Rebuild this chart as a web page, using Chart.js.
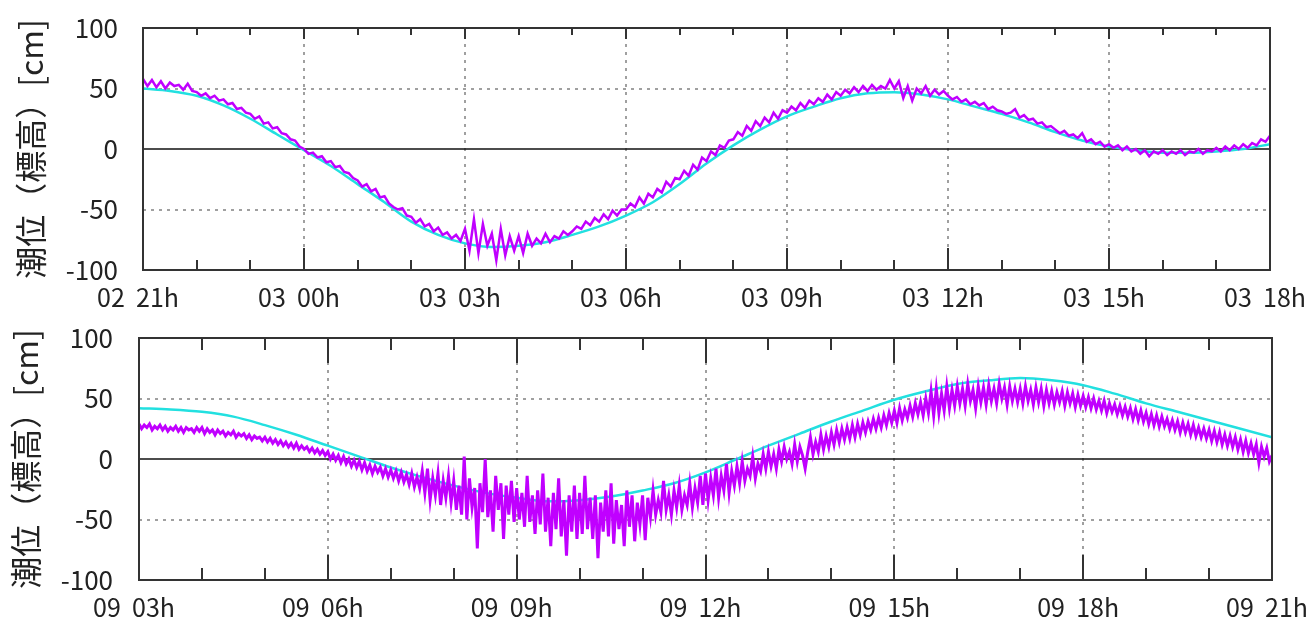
<!DOCTYPE html>
<html lang="ja">
<head>
<meta charset="UTF-8">
<title>潮位（標高）</title>
<script src="https://cdn.jsdelivr.net/npm/chart.js"></script>
<style>
  body { margin: 0; background: #fff; }
  .panel { position: absolute; left: 0; width: 1314px; height: 312px; }
</style>
</head>
<body>
<div class="panel" style="top:0"><canvas id="topChart" width="1314" height="312"></canvas></div>
<div class="panel" style="top:312px"><canvas id="bottomChart" width="1314" height="312"></canvas></div>

<script>
// ---- data ----
var Y_TICKS = [-100, -50, 0, 50, 100];

// top panel: 02 21h -> 03 18h, x in hours from start
var TOP_HOURS = [0, 1, 2, 3, 4, 5, 6, 7, 8, 9, 10, 11, 12, 13, 14, 15, 16, 17, 18, 19, 20, 21];
var TOP_LABELS = ['02  21h', '03  00h', '03  03h', '03  06h', '03  09h', '03  12h', '03  15h', '03  18h'];
// predicted tide, every 30 min
var TOP_PRED = [50, 48, 44, 36, 25, 12, -1, -14, -29, -44, -60, -71, -78, -81, -80, -77, -71, -64, -55, -44,
  -29, -12, 3, 16, 27, 35, 42, 46, 47, 45, 41, 35, 29, 22, 14, 7, 2, -1, -3, -3, -2, 0, 4];
// observed, every 5 min (12 per hour)
var TOP_OBS_PER_HOUR = 12;
var TOP_OBS = [
  58, 52, 57, 51, 56, 50, 55, 52, 53, 49, 54, 48,
  47, 44, 46, 42, 44, 40, 41, 37, 38, 33, 34, 30,
  29, 25, 27, 21, 22, 17, 18, 13, 12, 8, 7, 2,
  0, -4, -3, -7, -6, -11, -10, -15, -14, -19, -20, -24,
  -26, -31, -29, -35, -33, -40, -39, -45, -48, -50, -49, -55,
  -56, -61, -58, -64, -62, -68, -65, -71, -69, -74, -71, -76,
  -66, -84, -58, -86, -62, -80, -70, -92, -66, -88, -72, -84,
  -72, -86, -70, -80, -74, -78, -70, -77, -72, -74, -68, -71,
  -68, -64, -66, -60, -63, -57, -60, -54, -58, -51, -55, -50,
  -50, -45, -48, -40, -45, -37, -40, -33, -36, -27, -31, -24,
  -25, -18, -22, -13, -17, -7, -10, -2, -5, 3, 1, 7,
  8, 14, 11, 19, 15, 23, 19, 26, 22, 30, 25, 32,
  30, 35, 32, 38, 34, 40, 37, 42, 39, 45, 41, 47,
  44, 49, 46, 51, 47, 52, 48, 53, 49, 52, 50, 57,
  50, 56, 42, 52, 40, 50, 46, 52, 44, 49, 45, 48,
  44, 41, 43, 39, 41, 37, 39, 36, 38, 33, 35, 32,
  31, 29, 30, 33, 26, 28, 24, 25, 21, 22, 18, 19,
  16, 13, 15, 11, 12, 9, 13, 6, 8, 4, 6, 2,
  4, 1, 3, -1, 2, -2, 0, -4, -1, -6, -2, -4,
  -1, -5, -2, -4, -1, -5, -2, -3, 0, -4, -1, -2,
  1, -2, 2, -1, 3, 0, 4, 1, 5, 3, 8, 6,
  11];

// bottom panel: 09 03h -> 09 21h
var BOT_HOURS = [0, 1, 2, 3, 4, 5, 6, 7, 8, 9, 10, 11, 12, 13, 14, 15, 16, 17, 18];
var BOT_LABELS = ['09  03h', '09  06h', '09  09h', '09  12h', '09  15h', '09  18h', '09  21h'];
var BOT_PRED = [42, 41, 39, 35, 28, 20, 11, 2, -7, -15, -22, -28, -32, -35, -34, -31, -26, -20, -11, 0,
  11, 21, 31, 40, 49, 56, 62, 65, 67, 65, 61, 54, 46, 39, 32, 25, 18];
// observed, every 2.5 min (24 per hour)
var BOT_OBS_PER_HOUR = 24;
var BOT_OBS = [
  29, 25, 28, 26, 29, 24, 27, 25, 28, 24, 27, 23, 26, 24, 27, 23, 26, 22, 26, 24, 25, 22, 26, 23,
  26, 21, 25, 22, 24, 20, 24, 21, 23, 19, 22, 20, 23, 18, 21, 19, 21, 17, 20, 16, 19, 17, 18, 15,
  18, 14, 17, 13, 16, 12, 15, 11, 14, 10, 13, 9, 13, 8, 11, 8, 10, 6, 9, 5, 8, 4, 7, 3,
  6, 0, 4, -1, 3, -3, 2, -4, 0, -6, -1, -7, -2, -9, -3, -10, -5, -12, -6, -11, -7, -14, -8, -15,
  -9, -16, -10, -18, -11, -19, -13, -21, -12, -23, -15, -24, -10, -28, -8, -34, -16, -30, -12, -38, -18, -32, -14, -36,
  -18, -42, -22, -46, 2, -50, -16, -40, -24, -74, -20, -44, 0, -48, -26, -60, -14, -42, -20, -66, -22, -46, -18, -52,
  -24, -50, -28, -56, -14, -52, -30, -62, -26, -54, -12, -60, -32, -72, -28, -58, -16, -64, -34, -80, -30, -60, -22, -66,
  -28, -62, -14, -58, -32, -66, -30, -82, -36, -60, -26, -64, -20, -70, -34, -58, -38, -72, -26, -56, -30, -68, -36, -54,
  -30, -67, -32, -48, -26, -46, -34, -44, -18, -42, -30, -46, -26, -40, -22, -42, -30, -38, -20, -40, -24, -36, -14, -38,
  -12, -34, -16, -30, -8, -32, -14, -26, -4, -28, -10, -22, -6, -20, -2, -18, -8, -14, 2, -16, -4, -10, 4, -8,
  6, -6, 4, -8, 8, -2, 10, 0, 6, -4, 12, -2, 10, 3, -8, 6, 18, 4, 14, 6, 20, 8, 19, 10,
  22, 12, 24, 14, 25, 16, 26, 17, 28, 18, 29, 20, 30, 22, 31, 24, 33, 25, 34, 26, 36, 28, 38, 30,
  40, 30, 42, 32, 41, 34, 44, 35, 46, 37, 47, 36, 50, 38, 56, 36, 58, 38, 54, 40, 60, 42, 57, 44,
  60, 46, 58, 44, 62, 48, 57, 42, 60, 47, 59, 45, 61, 48, 58, 46, 62, 50, 59, 45, 60, 48, 58, 47,
  58, 46, 60, 48, 57, 45, 59, 47, 58, 44, 57, 46, 56, 45, 55, 47, 56, 44, 55, 46, 54, 43, 53, 44,
  52, 43, 51, 42, 50, 41, 48, 40, 48, 38, 46, 39, 45, 37, 44, 36, 43, 35, 42, 33, 41, 32, 40, 31,
  38, 29, 37, 28, 36, 27, 35, 27, 33, 25, 32, 24, 31, 22, 30, 22, 29, 20, 28, 19, 26, 18, 25, 17,
  24, 15, 23, 14, 22, 12, 20, 11, 19, 10, 18, 8, 16, 6, 15, 5, 13, 4, 12, -3, 10, 2, 9, -2,
  3];

var OBS_COLOR = '#c000ff';
var PRED_COLOR = '#22e0e0';
var GRID_COLOR = '#a0a0a0';

Chart.defaults.font.family = '"Noto Sans CJK JP", sans-serif';
Chart.defaults.color = '#222';

// frame, inner tick marks and the zero line
var framePlugin = {
  id: 'frame',
  beforeDatasetsDraw: function (chart) {
    var a = chart.chartArea, ctx = chart.ctx;
    var y0 = chart.scales.y.getPixelForValue(0);
    ctx.save();
    ctx.strokeStyle = '#111';
    ctx.lineWidth = 1.5;
    ctx.beginPath();
    ctx.moveTo(a.left, y0);
    ctx.lineTo(a.right, y0);
    ctx.stroke();
    ctx.restore();
  },
  afterDatasetsDraw: function (chart, args, opts) {
    var a = chart.chartArea, ctx = chart.ctx, xs = chart.scales.x;
    ctx.save();
    ctx.strokeStyle = '#333';
    ctx.lineWidth = 2;
    ctx.strokeRect(a.left, a.top, a.right - a.left, a.bottom - a.top);
    xs.ticks.forEach(function (t) {
      var px = Math.round(xs.getPixelForValue(t.value));
      var major = t.value % 3 === 0;
      ctx.beginPath();
      ctx.moveTo(px, a.top);
      ctx.lineTo(px, a.top + (major ? opts.topMajor : opts.topMinor));
      ctx.moveTo(px, a.bottom);
      ctx.lineTo(px, a.bottom - (major ? opts.bottomMajor : opts.bottomMinor));
      ctx.stroke();
    });
    ctx.restore();
  }
};

function makeChart(id, hours, labels, pred, obs, perHour, box) {
  var maxH = hours[hours.length - 1];
  var obsPts = obs.map(function (v, i) { return { x: i / perHour, y: v }; });
  var predPts = pred.map(function (v, i) { return { x: i / 2, y: v }; });

  return new Chart(document.getElementById(id), {
    type: 'line',
    data: {
      datasets: [{
        label: '観測潮位',
        data: obsPts,
        borderColor: OBS_COLOR,
        borderWidth: box.obsWidth,
        pointRadius: 0,
        tension: 0,
        order: 1
      }, {
        label: '推算潮位',
        data: predPts,
        borderColor: PRED_COLOR,
        borderWidth: 2.5,
        pointRadius: 0,
        tension: 0.4,
        cubicInterpolationMode: 'monotone',
        order: 2
      }]
    },
    options: {
      responsive: false,
      animation: false,
      events: [],
      layout: { padding: { top: box.top, right: box.right, bottom: 0, left: 0 } },
      plugins: {
        legend: { display: false },
        tooltip: { enabled: false },
        frame: box.ticks
      },
      scales: {
        x: {
          type: 'linear',
          min: 0,
          max: maxH,
          afterBuildTicks: function (s) {
            s.ticks = hours.map(function (h) { return { value: h }; });
          },
          afterFit: function (s) {
            s.height = box.xHeight;
            s.paddingLeft = 0;
            s.paddingRight = 0;
          },
          ticks: {
            autoSkip: false,
            maxRotation: 0,
            padding: 12,
            labelOffset: -5,
            font: { size: 25 },
            callback: function (v) {
              return v % 3 === 0 ? labels[v / 3] : '';
            }
          },
          grid: {
            drawTicks: false,
            lineWidth: 2,
            color: function (c) {
              var v = c.tick ? c.tick.value : -1;
              return (v % 3 === 0 && v > 0 && v < maxH) ? GRID_COLOR : 'rgba(0,0,0,0)';
            }
          },
          border: { display: false, dash: [3, 5] }
        },
        y: {
          min: -100,
          max: 100,
          afterBuildTicks: function (s) {
            s.ticks = Y_TICKS.map(function (v) { return { value: v }; });
          },
          afterFit: function (s) {
            s.width = box.yWidth;
            s.paddingTop = 0;
            s.paddingBottom = 0;
          },
          ticks: {
            padding: box.yPad,
            font: { size: 26 }
          },
          grid: {
            drawTicks: false,
            lineWidth: 2,
            color: function (c) {
              var v = c.tick ? c.tick.value : 0;
              return (v === 50 || v === -50) ? GRID_COLOR : 'rgba(0,0,0,0)';
            }
          },
          border: { display: false, dash: [3, 5] },
          title: {
            display: true,
            text: '潮位（標高）[cm]',
            font: { size: 32 },
            padding: { top: box.titlePad, bottom: 0 }
          }
        }
      }
    },
    plugins: [framePlugin]
  });
}

makeChart('topChart', TOP_HOURS, TOP_LABELS, TOP_PRED, TOP_OBS, TOP_OBS_PER_HOUR, {
  top: 28, right: 44, xHeight: 42, yWidth: 143, yPad: 25, titlePad: 12, obsWidth: 2.5,
  ticks: { topMajor: 11, topMinor: 7, bottomMajor: 22, bottomMinor: 10 }
});

makeChart('bottomChart', BOT_HOURS, BOT_LABELS, BOT_PRED, BOT_OBS, BOT_OBS_PER_HOUR, {
  top: 26, right: 42, xHeight: 44, yWidth: 139, yPad: 26, titlePad: 7, obsWidth: 3,
  ticks: { topMajor: 25, topMinor: 12, bottomMajor: 25, bottomMinor: 12 }
});
</script>
</body>
</html>
